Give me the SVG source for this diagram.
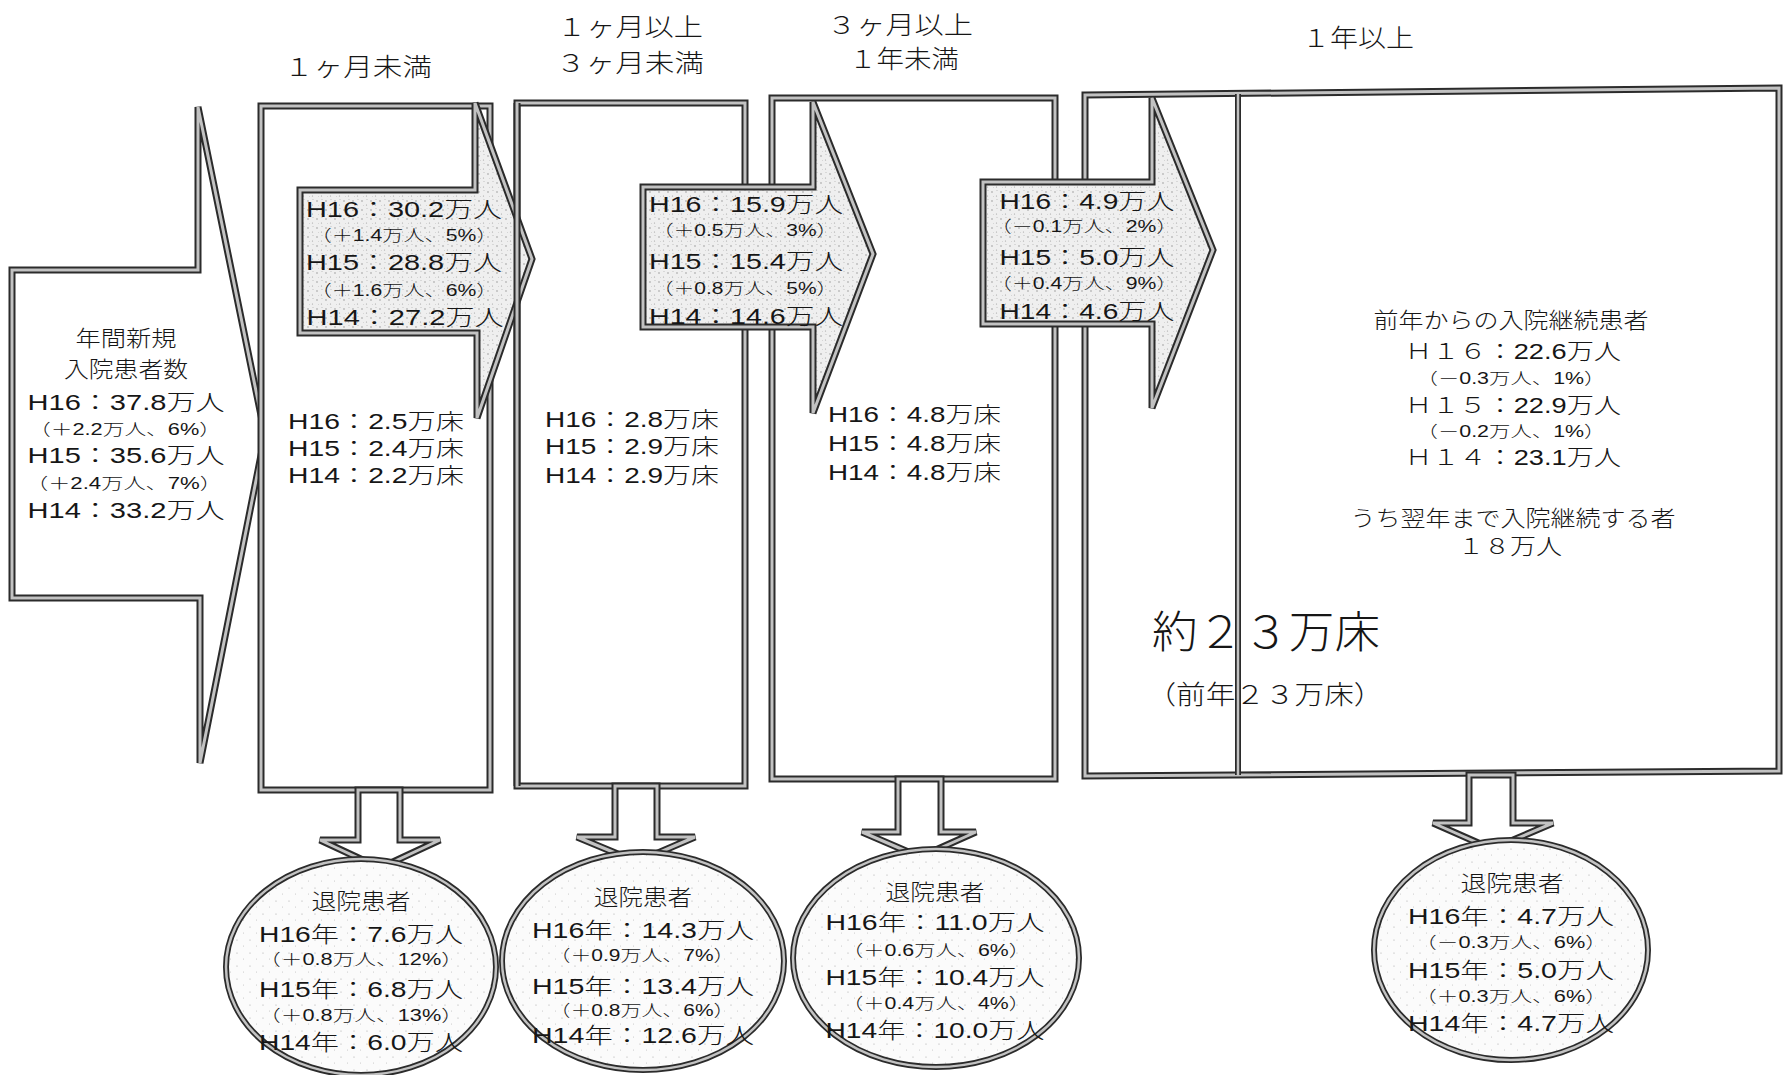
<svg xmlns="http://www.w3.org/2000/svg" xmlns:xlink="http://www.w3.org/1999/xlink" width="1783" height="1075" viewBox="0 0 1783 1075">
<defs>
<pattern id="sp" width="9" height="9" patternUnits="userSpaceOnUse">
<rect width="9" height="9" fill="#efefef"/>
<circle cx="2" cy="3" r="0.7" fill="#8a8a8a"/>
<circle cx="6.5" cy="7" r="0.6" fill="#a0a0a0"/>
<circle cx="7" cy="1.5" r="0.5" fill="#b4b4b4"/>
<circle cx="3.5" cy="7.5" r="0.4" fill="#b4b4b4"/>
</pattern>
<pattern id="sp2" width="13" height="13" patternUnits="userSpaceOnUse">
<rect width="13" height="13" fill="#fbfbfb"/>
<circle cx="3" cy="4" r="0.6" fill="#a8a8a8"/>
<circle cx="9.5" cy="10" r="0.5" fill="#bdbdbd"/>
</pattern>
<path id="sIn" d="M12,270 H198 V107 L265,435 L200,763 V598 H12 Z"/>
<rect id="sB1" x="261" y="106" width="229" height="684"/>
<rect id="sB2" x="517" y="103" width="228" height="683"/>
<rect id="sB3" x="772" y="98" width="283" height="681"/>
<path id="sB4" d="M1085,95 L1779,88 L1779,771 L1085,776 Z"/>
<path id="sDiv" d="M1238,94 V775"/>
<path id="sA1" d="M300,190 H475 V103 L532,259 L477,418 V333 H300 Z"/>
<path id="sA2" d="M643,187 H813 V102 L873,254 L813,413 V327 H643 Z"/>
<path id="sA3" d="M983,182 H1152 V98 L1213,250 L1152,408 V324 H983 Z"/>
<path id="sD1" d="M358,790 V840 H320 L380,868 L440,840 H400 V790 Z"/>
<path id="sD2" d="M615,786 V837 H577 L637,862 L695,837 H657 V786 Z"/>
<path id="sD3" d="M898,779 V832 H862 L920,857 L976,832 H941 V779 Z"/>
<path id="sD4" d="M1469,775 V823 H1433 L1492,849 L1553,823 H1513 V775 Z"/>
<ellipse id="sC1" cx="361" cy="967" rx="135" ry="108"/>
<ellipse id="sC2" cx="643" cy="961" rx="141" ry="109"/>
<ellipse id="sC3" cx="936" cy="958" rx="143" ry="109"/>
<ellipse id="sC4" cx="1511" cy="950" rx="137" ry="110"/>
</defs>
<style>
.o{stroke:#2b2b2b;stroke-width:7;stroke-linejoin:miter}
.i{stroke:#c2c2c2;stroke-width:3;fill:none;stroke-linejoin:miter}
.wf{fill:#ffffff}
.af{fill:url(#sp)}
.cf{fill:url(#sp2)}
.nf{fill:none}
text{font-family:"Liberation Sans","Noto Sans CJK JP",sans-serif;font-weight:300;fill:#161616}
.hd{font-size:25px;text-anchor:middle}
.t{font-size:22px}
.s{font-size:16px}
.m{text-anchor:middle}
.big{font-size:44px;text-anchor:middle}
</style>
<rect width="1783" height="1075" fill="#ffffff"/>

<g id="headers">
<text class="hd" x="358" y="76" textLength="148" lengthAdjust="spacingAndGlyphs">１ヶ月未満</text>
<text class="hd" x="630" y="36" textLength="146" lengthAdjust="spacingAndGlyphs">１ヶ月以上</text>
<text class="hd" x="630" y="72" textLength="148" lengthAdjust="spacingAndGlyphs">３ヶ月未満</text>
<text class="hd" x="900" y="34" textLength="146" lengthAdjust="spacingAndGlyphs">３ヶ月以上</text>
<text class="hd" x="904" y="68" textLength="110" lengthAdjust="spacingAndGlyphs">１年未満</text>
<text class="hd" x="1358" y="47" textLength="112" lengthAdjust="spacingAndGlyphs">１年以上</text>
</g>

<g id="intake">
<use href="#sIn" class="o wf"/>
<use href="#sIn" class="i"/>
<text class="t m" x="126" y="346" textLength="101" lengthAdjust="spacingAndGlyphs">年間新規</text>
<text class="t m" x="126" y="377" textLength="124" lengthAdjust="spacingAndGlyphs">入院患者数</text>
<text class="t m" x="126" y="410" textLength="197" lengthAdjust="spacingAndGlyphs">H16：37.8万人</text>
<text class="s m" x="125" y="435" textLength="192" lengthAdjust="spacingAndGlyphs">（＋2.2万人、6%）</text>
<text class="t m" x="126" y="463" textLength="197" lengthAdjust="spacingAndGlyphs">H15：35.6万人</text>
<text class="s m" x="124" y="489" textLength="196" lengthAdjust="spacingAndGlyphs">（＋2.4万人、7%）</text>
<text class="t m" x="126" y="518" textLength="197" lengthAdjust="spacingAndGlyphs">H14：33.2万人</text>
</g>

<g id="box-under-1m">
<use href="#sB1" class="o wf"/>
<use href="#sB1" class="i"/>
<text class="t" x="288" y="429" textLength="176" lengthAdjust="spacingAndGlyphs">H16：2.5万床</text>
<text class="t" x="288" y="456" textLength="176" lengthAdjust="spacingAndGlyphs">H15：2.4万床</text>
<text class="t" x="288" y="483" textLength="176" lengthAdjust="spacingAndGlyphs">H14：2.2万床</text>
</g>

<g id="box-1m-3m">
<use href="#sB2" class="o wf"/>
<use href="#sB2" class="i"/>
<text class="t" x="545" y="427" textLength="174" lengthAdjust="spacingAndGlyphs">H16：2.8万床</text>
<text class="t" x="545" y="454" textLength="174" lengthAdjust="spacingAndGlyphs">H15：2.9万床</text>
<text class="t" x="545" y="483" textLength="174" lengthAdjust="spacingAndGlyphs">H14：2.9万床</text>
</g>

<g id="box-3m-1y">
<use href="#sB3" class="o wf"/>
<use href="#sB3" class="i"/>
<text class="t" x="828" y="422" textLength="173" lengthAdjust="spacingAndGlyphs">H16：4.8万床</text>
<text class="t" x="828" y="451" textLength="173" lengthAdjust="spacingAndGlyphs">H15：4.8万床</text>
<text class="t" x="828" y="480" textLength="173" lengthAdjust="spacingAndGlyphs">H14：4.8万床</text>
</g>

<g id="box-over-1y">
<use href="#sB4" class="o wf"/>
<use href="#sB4" class="i"/>
<text class="t m" x="1511" y="328" textLength="275" lengthAdjust="spacingAndGlyphs">前年からの入院継続患者</text>
<text class="t m" x="1513" y="359" textLength="216" lengthAdjust="spacingAndGlyphs">Ｈ１６：22.6万人</text>
<text class="s m" x="1511" y="384" textLength="189" lengthAdjust="spacingAndGlyphs">（－0.3万人、1%）</text>
<text class="t m" x="1513" y="413" textLength="216" lengthAdjust="spacingAndGlyphs">Ｈ１５：22.9万人</text>
<text class="s m" x="1511" y="437" textLength="189" lengthAdjust="spacingAndGlyphs">（－0.2万人、1%）</text>
<text class="t m" x="1513" y="465" textLength="216" lengthAdjust="spacingAndGlyphs">Ｈ１４：23.1万人</text>
<text class="t m" x="1513" y="526" textLength="325" lengthAdjust="spacingAndGlyphs">うち翌年まで入院継続する者</text>
<text class="t m" x="1510" y="554" textLength="104" lengthAdjust="spacingAndGlyphs">１８万人</text>
<text class="big" x="1266" y="648" textLength="228" lengthAdjust="spacingAndGlyphs">約２３万床</text>
<text class="t m" x="1265" y="704" style="font-size:26px" textLength="237" lengthAdjust="spacingAndGlyphs">（前年２３万床）</text>
<use href="#sDiv" class="o nf" style="stroke-width:6"/>
<use href="#sDiv" class="i" style="stroke-width:2.5"/>
</g>

<g id="connectors">
<g id="flow-1m">
<use href="#sA1" class="o af"/>
<use href="#sA1" class="i"/>
<text class="t m" x="404" y="217" textLength="196" lengthAdjust="spacingAndGlyphs">H16：30.2万人</text>
<text class="s m" x="404" y="241" textLength="187" lengthAdjust="spacingAndGlyphs">（＋1.4万人、5%）</text>
<text class="t m" x="404" y="270" textLength="196" lengthAdjust="spacingAndGlyphs">H15：28.8万人</text>
<text class="s m" x="404" y="296" textLength="187" lengthAdjust="spacingAndGlyphs">（＋1.6万人、6%）</text>
<text class="t m" x="405" y="325" textLength="197" lengthAdjust="spacingAndGlyphs">H14：27.2万人</text>
</g>
<g id="flow-3m">
<use href="#sA2" class="o af"/>
<use href="#sA2" class="i"/>
<text class="t m" x="746" y="212" textLength="194" lengthAdjust="spacingAndGlyphs">H16：15.9万人</text>
<text class="s m" x="745" y="236" textLength="185" lengthAdjust="spacingAndGlyphs">（＋0.5万人、3%）</text>
<text class="t m" x="746" y="269" textLength="194" lengthAdjust="spacingAndGlyphs">H15：15.4万人</text>
<text class="s m" x="745" y="294" textLength="185" lengthAdjust="spacingAndGlyphs">（＋0.8万人、5%）</text>
<text class="t m" x="746" y="324" textLength="194" lengthAdjust="spacingAndGlyphs">H14：14.6万人</text>
</g>
<g id="flow-1y">
<use href="#sA3" class="o af"/>
<use href="#sA3" class="i"/>
<text class="t m" x="1087" y="209" textLength="175" lengthAdjust="spacingAndGlyphs">H16：4.9万人</text>
<text class="s m" x="1084" y="232" textLength="187" lengthAdjust="spacingAndGlyphs">（－0.1万人、2%）</text>
<text class="t m" x="1087" y="265" textLength="175" lengthAdjust="spacingAndGlyphs">H15：5.0万人</text>
<text class="s m" x="1084" y="289" textLength="187" lengthAdjust="spacingAndGlyphs">（＋0.4万人、9%）</text>
<text class="t m" x="1087" y="319" textLength="175" lengthAdjust="spacingAndGlyphs">H14：4.6万人</text>
</g>
<g id="down-arrows">
<use href="#sD1" class="o wf"/><use href="#sD1" class="i"/>
<use href="#sD2" class="o wf"/><use href="#sD2" class="i"/>
<use href="#sD3" class="o wf"/><use href="#sD3" class="i"/>
<use href="#sD4" class="o wf"/><use href="#sD4" class="i"/>
</g>
</g>

<g id="box-1m-3m-left-edge">
<path d="M517,103 V786" class="o nf"/>
<path d="M517,103 V786" class="i"/>
</g>

<g id="discharge-1">
<use href="#sC1" class="o cf" style="stroke-width:6"/>
<use href="#sC1" class="i" style="stroke-width:2.5"/>
<text class="t m" x="361" y="909" textLength="99" lengthAdjust="spacingAndGlyphs">退院患者</text>
<text class="t m" x="361" y="942" textLength="204" lengthAdjust="spacingAndGlyphs">H16年：7.6万人</text>
<text class="s m" x="361" y="965" textLength="204" lengthAdjust="spacingAndGlyphs">（＋0.8万人、12%）</text>
<text class="t m" x="361" y="997" textLength="204" lengthAdjust="spacingAndGlyphs">H15年：6.8万人</text>
<text class="s m" x="361" y="1021" textLength="204" lengthAdjust="spacingAndGlyphs">（＋0.8万人、13%）</text>
<text class="t m" x="361" y="1050" textLength="204" lengthAdjust="spacingAndGlyphs">H14年：6.0万人</text>
</g>

<g id="discharge-2">
<use href="#sC2" class="o cf" style="stroke-width:6"/>
<use href="#sC2" class="i" style="stroke-width:2.5"/>
<text class="t m" x="643" y="905" textLength="98" lengthAdjust="spacingAndGlyphs">退院患者</text>
<text class="t m" x="643" y="938" textLength="222" lengthAdjust="spacingAndGlyphs">H16年：14.3万人</text>
<text class="s m" x="642" y="961" textLength="185" lengthAdjust="spacingAndGlyphs">（＋0.9万人、7%）</text>
<text class="t m" x="643" y="994" textLength="222" lengthAdjust="spacingAndGlyphs">H15年：13.4万人</text>
<text class="s m" x="642" y="1016" textLength="185" lengthAdjust="spacingAndGlyphs">（＋0.8万人、6%）</text>
<text class="t m" x="643" y="1043" textLength="222" lengthAdjust="spacingAndGlyphs">H14年：12.6万人</text>
</g>

<g id="discharge-3">
<use href="#sC3" class="o cf" style="stroke-width:6"/>
<use href="#sC3" class="i" style="stroke-width:2.5"/>
<text class="t m" x="935" y="900" textLength="99" lengthAdjust="spacingAndGlyphs">退院患者</text>
<text class="t m" x="935" y="930" textLength="219" lengthAdjust="spacingAndGlyphs">H16年：11.0万人</text>
<text class="s m" x="936" y="956" textLength="188" lengthAdjust="spacingAndGlyphs">（＋0.6万人、6%）</text>
<text class="t m" x="935" y="985" textLength="219" lengthAdjust="spacingAndGlyphs">H15年：10.4万人</text>
<text class="s m" x="936" y="1009" textLength="188" lengthAdjust="spacingAndGlyphs">（＋0.4万人、4%）</text>
<text class="t m" x="935" y="1038" textLength="219" lengthAdjust="spacingAndGlyphs">H14年：10.0万人</text>
</g>

<g id="discharge-4">
<use href="#sC4" class="o cf" style="stroke-width:6"/>
<use href="#sC4" class="i" style="stroke-width:2.5"/>
<text class="t m" x="1512" y="891" textLength="103" lengthAdjust="spacingAndGlyphs">退院患者</text>
<text class="t m" x="1511" y="924" textLength="206" lengthAdjust="spacingAndGlyphs">H16年：4.7万人</text>
<text class="s m" x="1511" y="948" textLength="192" lengthAdjust="spacingAndGlyphs">（－0.3万人、6%）</text>
<text class="t m" x="1511" y="978" textLength="206" lengthAdjust="spacingAndGlyphs">H15年：5.0万人</text>
<text class="s m" x="1511" y="1002" textLength="192" lengthAdjust="spacingAndGlyphs">（＋0.3万人、6%）</text>
<text class="t m" x="1511" y="1031" textLength="206" lengthAdjust="spacingAndGlyphs">H14年：4.7万人</text>
</g>
</svg>
